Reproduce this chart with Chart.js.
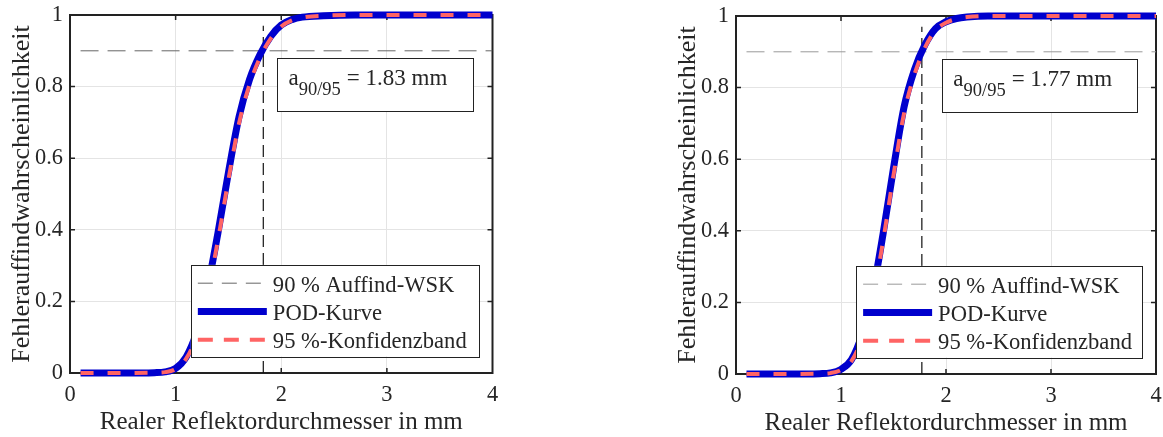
<!DOCTYPE html>
<html>
<head>
<meta charset="utf-8">
<script src="https://cdn.jsdelivr.net/npm/chart.js@4.4.1/dist/chart.umd.min.js"></script>
<style>
    html, body { margin: 0; padding: 0; background: #fff; }
    body { width: 1163px; height: 437px; position: relative; overflow: hidden; }
    canvas { position: absolute; }
    #podLeft { left: 0; top: 0; }
    #podRight { left: 666px; top: 1px; }
</style>
</head>
<body>
<canvas id="podLeft" width="500" height="437"></canvas>
<canvas id="podRight" width="497" height="437"></canvas>
<script>
// Reflektordurchmesser in mm (Stuetzstellen)
const xValues   = [0.1, 0.5, 0.8, 0.9, 1.0, 1.1, 1.2, 1.3, 1.4, 1.5, 1.6, 1.7, 1.8, 1.9, 2.0, 2.1, 2.2, 2.4, 2.7, 3.0, 4.0];
const podLeft   = [0, 0, 0.001, 0.003, 0.013, 0.045, 0.115, 0.235, 0.39, 0.56, 0.715, 0.82, 0.89, 0.94, 0.972, 0.987, 0.994, 0.998, 1, 1, 1];
const confLeft  = [0, 0, 0.001, 0.0025, 0.011, 0.04, 0.105, 0.22, 0.37, 0.54, 0.697, 0.806, 0.882, 0.934, 0.968, 0.985, 0.993, 0.998, 1, 1, 1];
const podRight  = [0, 0, 0.001, 0.003, 0.013, 0.04, 0.11, 0.225, 0.39, 0.575, 0.745, 0.85, 0.92, 0.965, 0.984, 0.993, 0.997, 1, 1, 1, 1];
const confRight = [0, 0, 0.001, 0.0025, 0.011, 0.036, 0.1, 0.21, 0.37, 0.555, 0.727, 0.837, 0.912, 0.96, 0.981, 0.992, 0.997, 1, 1, 1, 1];

const findLevel = 0.9;          // 90 % Auffind-WSK
const levelRange = [0.1, 4];
const a9095 = [1.83, 1.77];     // a90/95 links, rechts
const a9095Top = 0.97;

const xTicks = [0, 1, 2, 3, 4];
const yTicks = [0, 0.2, 0.4, 0.6, 0.8, 1];
const legendLabels = ['90 % Auffind-WSK', 'POD-Kurve', '95 %-Konfidenzband'];

const FONT = "'Liberation Serif', 'Times New Roman', serif";
const TXT = '#262626';
const BLUE = '#0000cd';
const RED = '#ff6464';

const pts = (xs, ys) => xs.map((x, i) => ({x: x, y: ys[i]}));

function decorPlugin(aVal, greyColor) {
    return {
        id: 'podDecor',
        beforeDatasetsDraw(chart) {
            const {ctx, chartArea: a, scales: {x, y}} = chart;
            ctx.save();
            ctx.strokeStyle = '#222';
            ctx.lineWidth = 2;
            ctx.strokeRect(a.left, a.top, a.right - a.left, a.bottom - a.top);
            ctx.lineWidth = 1.5;
            ctx.beginPath();
            xTicks.slice(1, -1).forEach(t => {
                const px = x.getPixelForValue(t);
                ctx.moveTo(px, a.bottom); ctx.lineTo(px, a.bottom - 5);
                ctx.moveTo(px, a.top); ctx.lineTo(px, a.top + 5);
            });
            yTicks.slice(1, -1).forEach(t => {
                const py = y.getPixelForValue(t);
                ctx.moveTo(a.left, py); ctx.lineTo(a.left + 5, py);
                ctx.moveTo(a.right, py); ctx.lineTo(a.right - 5, py);
            });
            ctx.stroke();
            ctx.restore();
        },
        afterDatasetsDraw(chart) {
            const {ctx, scales: {x, y}} = chart;
            ctx.save();

            // Textbox a90/95
            const bx = x.getPixelForValue(1.96), bx2 = x.getPixelForValue(3.82);
            const by = y.getPixelForValue(0.879), by2 = y.getPixelForValue(0.73);
            ctx.fillStyle = '#fff';
            ctx.fillRect(bx, by, bx2 - bx, by2 - by);
            ctx.strokeStyle = '#222';
            ctx.lineWidth = 1;
            ctx.strokeRect(Math.round(bx) + 0.5, Math.round(by) + 0.5, Math.round(bx2 - bx), Math.round(by2 - by));
            ctx.fillStyle = TXT;
            ctx.textBaseline = 'alphabetic';
            ctx.textAlign = 'left';
            let tx = bx + 11.5;
            const base = by + 27;
            ctx.font = '23px ' + FONT;
            ctx.fillText('a', tx, base);
            tx += ctx.measureText('a').width;
            ctx.font = '18.5px ' + FONT;
            ctx.fillText('90/95', tx, base + 10);
            tx += ctx.measureText('90/95').width + 6;
            ctx.font = '23px ' + FONT;
            ctx.fillText('= ' + aVal.toFixed(2) + ' mm', tx, base);

            // Legende
            const lx = x.getPixelForValue(1.144), lx2 = x.getPixelForValue(3.87);
            const ly = y.getPixelForValue(0.302), ly2 = y.getPixelForValue(0.046);
            ctx.fillStyle = '#fff';
            ctx.fillRect(lx, ly, lx2 - lx, ly2 - ly);
            ctx.strokeStyle = '#222';
            ctx.lineWidth = 1;
            ctx.strokeRect(Math.round(lx) + 0.5, Math.round(ly) + 0.5, Math.round(lx2 - lx), Math.round(ly2 - ly));
            const styles = [
                {c: greyColor, w: 1, d: [15, 9]},
                {c: BLUE, w: 7, d: []},
                {c: RED, w: 4, d: [15, 11]}
            ];
            legendLabels.forEach((lab, i) => {
                const ry = ly + 18.3 + i * 28.3;
                ctx.beginPath();
                ctx.strokeStyle = styles[i].c;
                ctx.lineWidth = styles[i].w;
                ctx.setLineDash(styles[i].d);
                ctx.moveTo(lx + 7, ry);
                ctx.lineTo(lx + 76, ry);
                ctx.stroke();
                ctx.setLineDash([]);
                ctx.fillStyle = TXT;
                ctx.font = '22.6px ' + FONT;
                ctx.fillText(lab, lx + 82, ry + 8.4);
            });
            ctx.restore();
        }
    };
}

function makeChart(id, pod, conf, aVal, greyColor, padRight) {
    const ctx = document.getElementById(id).getContext('2d');
    return new Chart(ctx, {
        type: 'line',
        data: {
            datasets: [
                {
                    label: legendLabels[2],
                    data: pts(xValues, conf),
                    borderColor: RED, borderWidth: 4, borderDash: [13, 14],
                    cubicInterpolationMode: 'monotone', pointRadius: 0, clip: false, order: 0
                },
                {
                    label: legendLabels[1],
                    data: pts(xValues, pod),
                    borderColor: BLUE, borderWidth: 7,
                    cubicInterpolationMode: 'monotone', pointRadius: 0, clip: false, order: 1
                },
                {
                    label: legendLabels[0],
                    data: pts(levelRange, [findLevel, findLevel]),
                    borderColor: greyColor, borderWidth: 1, borderDash: [18, 9],
                    pointRadius: 0, order: 2
                },
                {
                    label: 'a90/95',
                    data: pts([aVal, aVal], [0, a9095Top]),
                    borderColor: '#111', borderWidth: 1.2, borderDash: [12, 6],
                    pointRadius: 0, order: 3
                }
            ]
        },
        options: {
            responsive: false,
            animation: false,
            devicePixelRatio: 1,
            layout: {padding: {left: 0, top: 15, right: padRight, bottom: 0}},
            plugins: {legend: {display: false}, tooltip: {enabled: false}},
            scales: {
                x: {
                    type: 'linear', min: 0, max: 4,
                    afterBuildTicks: s => { s.ticks = xTicks.map(v => ({value: v})); },
                    afterFit: s => { s.height = 64; s.paddingLeft = 0; s.paddingRight = 0; },
                    grid: {color: '#e4e4e4', drawTicks: false},
                    border: {display: false},
                    ticks: {font: {family: FONT, size: 22.4}, color: TXT, padding: 9, maxRotation: 0,
                        callback: v => String(v)},
                    title: {display: true, text: 'Realer Reflektordurchmesser in mm',
                        font: {family: FONT, size: 25}, color: TXT, padding: {top: 0, bottom: 0}}
                },
                y: {
                    type: 'linear', min: 0, max: 1,
                    afterBuildTicks: s => { s.ticks = yTicks.map(v => ({value: v})); },
                    afterFit: s => { s.width = 70; s.paddingTop = 0; s.paddingBottom = 0; },
                    grid: {color: '#e4e4e4', drawTicks: false},
                    border: {display: false},
                    ticks: {font: {family: FONT, size: 22.4}, color: TXT, padding: 7,
                        callback: v => String(Math.round(v * 10) / 10)},
                    title: {display: true, text: 'Fehlerauffindwahrscheinlichkeit',
                        font: {family: FONT, size: 26}, color: TXT, padding: {top: 6.5, bottom: 0}}
                }
            }
        },
        plugins: [decorPlugin(aVal, greyColor)]
    });
}

makeChart('podLeft', podLeft, confLeft, a9095[0], '#666', 7.5);
makeChart('podRight', podRight, confRight, a9095[1], '#999', 7);
</script>
</body>
</html>
